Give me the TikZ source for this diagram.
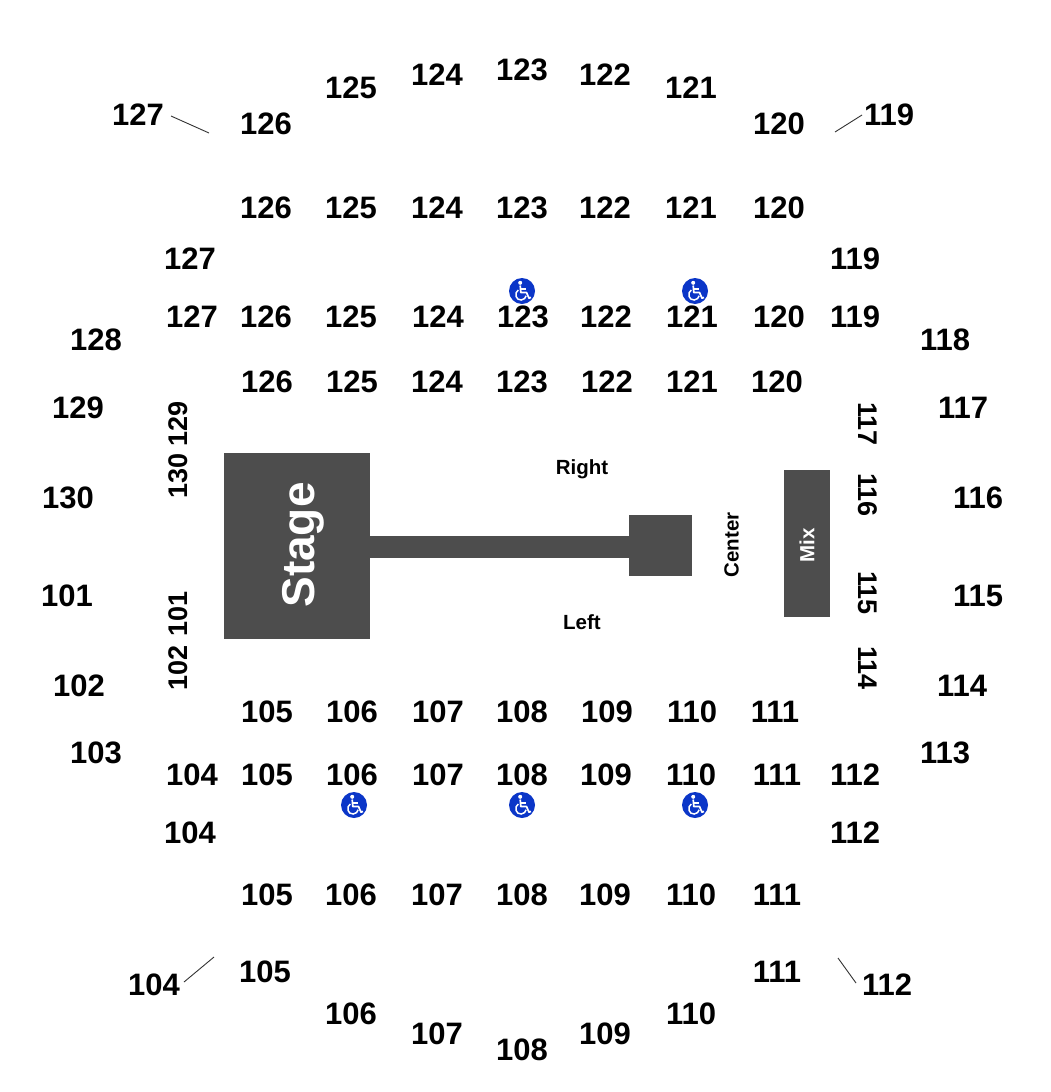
\documentclass[tikz,border=0pt]{standalone}
\usepackage{fontspec}
\setmainfont{Liberation Sans}
\definecolor{dark}{HTML}{4D4D4D}
\definecolor{wcblue}{HTML}{0B36C8}
\tikzset{
 x=1pt,y=-1pt,
 sec/.style={font=\fontsize{31}{31}\selectfont\bfseries,inner sep=0pt,text=black,yshift=-0.8pt},
 sidesec/.style={font=\fontsize{27}{27}\selectfont\bfseries,inner sep=0pt,text=black},
 small/.style={font=\fontsize{20.5}{20.5}\selectfont\bfseries,inner sep=0pt,text=black},
 block/.style={fill=dark,draw=none},
 leader/.style={draw=black!80,line width=0.9pt},
 wheelchair/.pic={
  \fill[wcblue] (0,0) circle (13);
  \fill[white] (-1.8,-8.2) circle (2);
  \draw[white,line width=1.7pt,line join=round] (-1.8,-5.5) -- (-1.2,1.5) -- (4.5,1.5) -- (7,7.2) -- (9,6.4);
  \draw[white,line width=1.2pt] (-1.5,-2) -- (3.5,-2);
  \draw[white,line width=1.5pt] (-3.7,-1) .. controls (-8.5,2) and (-6,9.5) .. (-0.8,9) .. controls (2,8.8) and (3.8,6.8) .. (4.1,4.8);
 }
}
\begin{document}
\begin{tikzpicture}
\useasboundingbox (0,0) rectangle (1050,1092);
\fill[white] (0,0) rectangle (1050,1092);
% stage blocks
\node[block,minimum width=146,minimum height=186,inner sep=0pt,anchor=north west] (stageblock) at (224,453) {};
\node[block,minimum width=259,minimum height=22,inner sep=0pt,anchor=north west] (runway) at (370,536) {};
\node[block,minimum width=63,minimum height=61,inner sep=0pt,anchor=north west] (bstage) at (629,515) {};
\node[block,minimum width=46,minimum height=147,inner sep=0pt,anchor=north west] (mixblock) at (784,470) {};
\node[rotate=90,inner sep=0pt,text=white,font=\fontsize{46}{46}\selectfont\bfseries] (stagelabel) at (303,545) {Stage};
\node[rotate=90,inner sep=0pt,text=white,font=\fontsize{20.5}{20.5}\selectfont\bfseries] (mixlabel) at (807,545) {Mix};
\node[small] (right) at (582,469.5) {Right};
\node[small] (left) at (582,622) {Left};
\node[small,rotate=90] (center) at (731.5,545) {Center};
% section labels
\foreach \x/\y/\t [count=\i] in {
 138/114/127,266/123/126,351/87/125,437/74/124,522/69/123,605/74/122,691/87/121,779/123/120,889/114/119,
 266/207/126,351/207/125,437/207/124,522/207/123,605/207/122,691/207/121,779/207/120,
 190/258/127,855/258/119,
 192/316/127,266/316/126,351/316/125,438/316/124,523/316/123,606/316/122,692/316/121,779/316/120,855/316/119,
 96/339/128,945/339/118,
 267/381/126,352/381/125,437/381/124,522/381/123,607/381/122,692/381/121,777/381/120,
 78/407/129,963/407/117,68/497/130,978/497/116,67/595/101,978/595/115,79/685/102,962/685/114,96/752/103,945/752/113,
 267/711/105,352/711/106,438/711/107,522/711/108,607/711/109,692/711/110,775/711/111,
 192/774/104,267/774/105,352/774/106,438/774/107,522/774/108,606/774/109,691/774/110,777/774/111,855/774/112,
 190/832/104,855/832/112,
 267/894/105,351/894/106,437/894/107,522/894/108,605/894/109,691/894/110,777/894/111,
 265/971/105,777/971/111,
 351/1013/106,437/1033/107,522/1049/108,605/1033/109,691/1013/110,154/984/104,887/984/112}
 {\node[sec] (sec\i) at (\x,\y) {\t};}
\foreach \y/\t [count=\i] in {424/129,476/130,614/101,668/102}
 {\node[sidesec,rotate=90] (sl\i) at (178,\y) {\t};}
\foreach \y/\t [count=\i] in {424/117,495/116,593/115,668/114}
 {\node[sidesec,rotate=-90] (sr\i) at (868,\y) {\t};}
% leaders
\coordinate (a1) at (171,116); \coordinate (a2) at (209,133);
\coordinate (b1) at (835,132); \coordinate (b2) at (862,115);
\coordinate (c1) at (184,982); \coordinate (c2) at (214,957);
\coordinate (d1) at (856,983); \coordinate (d2) at (838,958);
\draw[leader] (a1) -- (a2);
\draw[leader] (b1) -- (b2);
\draw[leader] (c1) -- (c2);
\draw[leader] (d1) -- (d2);
% wheelchair symbols
\foreach \x/\y in {522/291,695/291,354/805,522/805,695/805}
 {\pic at (\x,\y) {wheelchair};}
\end{tikzpicture}
\end{document}
